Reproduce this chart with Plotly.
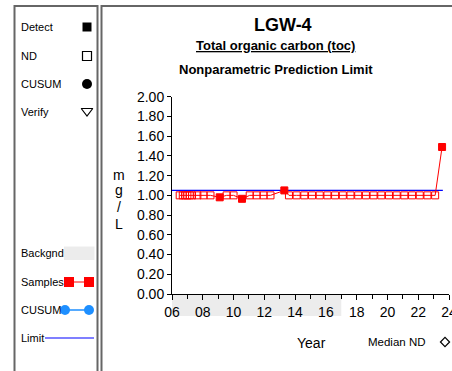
import plotly.graph_objects as go

W, H = 452, 371
def px(x): return x / W
def py(y): return 1 - y / H

# ---------------- data ----------------
nd_years = [2006.5, 2006.7, 2006.85, 2007.0, 2007.15, 2007.3, 2007.65, 2008.05, 2008.5,
            2009.55, 2010.0,
            2011.05, 2011.5, 2011.95, 2012.4,
            2013.6, 2014.1, 2014.6, 2015.1, 2015.6, 2016.1, 2016.6, 2017.1, 2017.6, 2018.1,
            2018.6, 2019.1, 2019.6, 2020.1, 2020.6, 2021.1, 2021.6, 2022.1, 2022.6, 2023.1]
nd_values = [1.0] * len(nd_years)
detect_years = [2009.1, 2010.55, 2013.3, 2023.55]
detect_values = [0.98, 0.965, 1.05, 1.49]
limit_years = [2006.0, 2023.6]
limit_values = [1.05, 1.05]
median_nd_year = [2024.05]
median_nd_value = [1.0]
background_years = [2006.0, 2017.0]
x_tickvals = [2006, 2008, 2010, 2012, 2014, 2016, 2018, 2020, 2022, 2024]
x_ticktext = ["06", "08", "10", "12", "14", "16", "18", "20", "22", "24"]

samples = sorted([(x, v, "square-open") for x, v in zip(nd_years, nd_values)] +
                 [(x, v, "square") for x, v in zip(detect_years, detect_values)])
s_x = [s[0] for s in samples]
s_y = [s[1] for s in samples]
s_sym = [s[2] for s in samples]

FONT = "Arial, Liberation Sans, sans-serif"
RED = "#ff0000"
BLUE = "#0000ff"
CBLUE = "#1e8fff"

fig = go.Figure()

# limit line
fig.add_trace(go.Scatter(x=limit_years, y=limit_values, mode="lines",
                         line=dict(color=BLUE, width=1.2), hoverinfo="skip"))
# samples
fig.add_trace(go.Scatter(x=s_x, y=s_y, mode="lines+markers",
                         line=dict(color=RED, width=1),
                         marker=dict(symbol=s_sym, size=7, color=RED,
                                     line=dict(color=RED, width=1)),
                         cliponaxis=False))
# median ND
fig.add_trace(go.Scatter(x=median_nd_year, y=median_nd_value, mode="markers",
                         marker=dict(symbol="diamond-open", size=7, color=RED,
                                     line=dict(color=RED, width=1)),
                         cliponaxis=False))

# ---------- overlay (pixel coordinates) for legend symbols ----------
def ov(x, y, **kw):
    fig.add_trace(go.Scatter(x=x, y=y, xaxis="x2", yaxis="y2", cliponaxis=False,
                             hoverinfo="skip", **kw))

ov([87], [27], mode="markers", marker=dict(symbol="square", size=9, color="black"))
ov([87], [56], mode="markers", marker=dict(symbol="square-open", size=9, color="black",
                                           line=dict(width=1.2, color="black")))
ov([87], [84], mode="markers", marker=dict(symbol="circle", size=10, color="black"))
ov([87], [111], mode="markers", marker=dict(symbol="triangle-down-open", size=10, color="black",
                                            line=dict(width=1.2, color="black")))
ov([69, 89], [282, 282], mode="lines+markers", line=dict(color=RED, width=1),
   marker=dict(symbol="square", size=10, color=RED))
ov([65, 89], [310, 310], mode="lines+markers", line=dict(color=CBLUE, width=1.5),
   marker=dict(symbol="circle", size=10, color=CBLUE))
ov([45, 94], [338, 338], mode="lines", line=dict(color=BLUE, width=1.2))
ov([445], [342], mode="markers", marker=dict(symbol="diamond-open", size=7, color="black",
                                             line=dict(width=1.2, color="black")))

shapes = [
    # panels
    dict(type="rect", xref="paper", yref="paper", x0=px(14.5), x1=px(97.5),
         y0=py(380), y1=py(6), line=dict(color="#666666", width=2), layer="below"),
    dict(type="rect", xref="paper", yref="paper", x0=px(101.5), x1=px(470),
         y0=py(380), y1=py(6), line=dict(color="#666666", width=2), layer="below"),
    # background legend swatch
    dict(type="rect", xref="paper", yref="paper", x0=px(64), x1=px(94.5),
         y0=py(260), y1=py(246.5), fillcolor="#ececec", line=dict(width=0), layer="below"),
    # background period band under the axis
    dict(type="rect", xref="x", yref="paper", x0=background_years[0], x1=background_years[1],
         y0=py(316), y1=py(295), fillcolor="#ececec", line=dict(width=0), layer="below"),
]

def ann(text, x, y, size, bold=False, xanchor="center"):
    if bold:
        text = "<b>" + text + "</b>"
    return dict(text=text, x=px(x), y=py(y), xref="paper", yref="paper",
                xanchor=xanchor, yanchor="middle", showarrow=False,
                font=dict(family=FONT, size=size, color="black"))

annotations = [
    ann("LGW-4", 283, 25, 18, bold=True),
    ann("<u>Total organic carbon (toc)</u>", 275.5, 46, 13, bold=True),
    ann("Nonparametric Prediction Limit", 275.5, 69, 13, bold=True),
    ann("m", 119, 175, 14), ann("g", 119, 190, 14), ann("/", 119, 207, 14), ann("L", 119, 224, 14),
    ann("Year", 311, 343, 14),
    ann("Median ND", 366, 342, 11.5, xanchor="left"),
    ann("Detect", 19, 27, 11, xanchor="left"),
    ann("ND", 19, 56, 11, xanchor="left"),
    ann("CUSUM", 19, 84, 11, xanchor="left"),
    ann("Verify", 19, 112, 11, xanchor="left"),
    ann("Backgnd", 19, 253, 11, xanchor="left"),
    ann("Samples", 19, 282, 11, xanchor="left"),
    ann("CUSUM", 19, 310, 11, xanchor="left"),
    ann("Limit", 19, 338, 11, xanchor="left"),
]

fig.update_layout(
    width=W, height=H, margin=dict(l=0, r=0, t=0, b=0, pad=0), autosize=False,
    paper_bgcolor="white", plot_bgcolor="rgba(0,0,0,0)", showlegend=False,
    font=dict(family=FONT, color="black"),
    shapes=shapes, annotations=annotations,
    xaxis=dict(domain=[px(172), px(449)], range=[2006, 2024], automargin=False,
               tickvals=x_tickvals, ticktext=x_ticktext, ticklabeloverflow="allow",
               ticks="outside", ticklen=5, tickcolor="black", tickwidth=1,
               minor=dict(dtick=1, tick0=2006, ticks="outside", ticklen=4, tickcolor="black"),
               showline=True, linecolor="black", linewidth=1,
               showgrid=False, zeroline=False,
               tickfont=dict(family=FONT, size=14, color="black")),
    yaxis=dict(domain=[py(294), py(96.7)], range=[0, 2], dtick=0.2, tick0=0, automargin=False,
               tickformat=".2f", ticks="outside", ticklen=4, tickcolor="black",
               ticklabeloverflow="allow",
               showline=True, linecolor="black", linewidth=1,
               showgrid=False, zeroline=False,
               tickfont=dict(family=FONT, size=14, color="black")),
    xaxis2=dict(domain=[0, 1], range=[0, W], visible=False, anchor="y2", automargin=False),
    yaxis2=dict(domain=[0, 1], range=[H, 0], visible=False, anchor="x2", automargin=False),
)

post = ("document.documentElement.style.margin='0';document.body.style.margin='0';"
        "document.body.style.padding='0';document.body.style.overflow='hidden';")
fig.write_html("out.html", config={"displayModeBar": False}, post_script=post)
